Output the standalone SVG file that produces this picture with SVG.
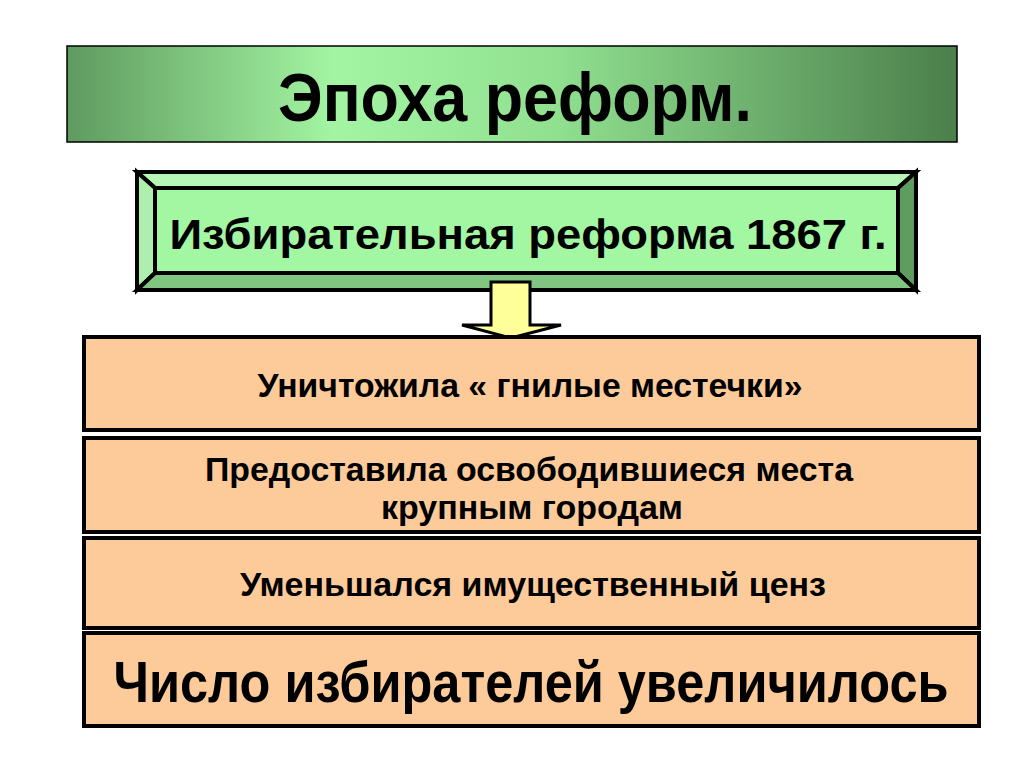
<svg xmlns="http://www.w3.org/2000/svg" width="1024" height="768" viewBox="0 0 1024 768">
<defs>
<linearGradient id="tg" x1="0" y1="0" x2="1" y2="0">
<stop offset="0" stop-color="#5f9a5f"/>
<stop offset="0.3" stop-color="#a3f5a3"/>
<stop offset="0.55" stop-color="#90e090"/>
<stop offset="1" stop-color="#4b7e4b"/>
</linearGradient>
</defs>
<style>
text{font-family:"Liberation Sans",Arial,sans-serif;font-weight:bold;fill:#000;text-anchor:middle}
.box{fill:#fdca9a;stroke:#000;stroke-width:4}
.bv{stroke:#000;stroke-width:4;stroke-linejoin:miter}
</style>
<rect width="1024" height="768" fill="#fff"/>
<g id="title">
<rect x="67" y="46" width="890" height="96" fill="url(#tg)" stroke="#000" stroke-width="1.5"/>
<text x="515" y="121" font-size="68" textLength="474" lengthAdjust="spacingAndGlyphs">Эпоха реформ.</text>
</g>
<g id="reform">
<polygon class="bv" points="137,172 916,172 898,188 155,188" fill="#b6f6b6"/>
<polygon class="bv" points="137,172 155,188 155,273 137,290" fill="#aeeeae"/>
<polygon class="bv" points="916,172 916,290 898,273 898,188" fill="#5f9d5f"/>
<polygon class="bv" points="137,290 155,273 898,273 916,290" fill="#80c680"/>
<rect class="bv" x="155" y="188" width="743" height="85" fill="#a3f7a3"/>
<text x="528" y="249" font-size="43" textLength="717" lengthAdjust="spacingAndGlyphs">Избирательная реформа 1867 г.</text>
</g>
<g id="connectors">
<polygon points="491,282 530,282 530,325 561,325 511,338 462,325 491,325" fill="#ffff99" stroke="#000" stroke-width="3" stroke-linejoin="miter"/>
</g>
<g id="b1">
<rect class="box" x="84" y="337" width="895" height="93"/>
<text x="530" y="397" font-size="33" textLength="545" lengthAdjust="spacingAndGlyphs">Уничтожила « гнилые местечки»</text>
</g>
<g id="b2">
<rect class="box" x="84" y="438" width="895" height="94"/>
<text x="529" y="481" font-size="33" textLength="648" lengthAdjust="spacingAndGlyphs">Предоставила освободившиеся места</text>
<text x="532" y="519" font-size="33" textLength="302" lengthAdjust="spacingAndGlyphs">крупным городам</text>
</g>
<g id="b3">
<rect class="box" x="84" y="538" width="895" height="90"/>
<text x="533" y="596" font-size="33" textLength="586" lengthAdjust="spacingAndGlyphs">Уменьшался имущественный ценз</text>
</g>
<g id="b4">
<rect class="box" x="84" y="633" width="895" height="93"/>
<text transform="translate(531,702) scale(1,1.13)" x="0" y="0" font-size="50.5">Число избирателей увеличилось</text>
</g>
</svg>
